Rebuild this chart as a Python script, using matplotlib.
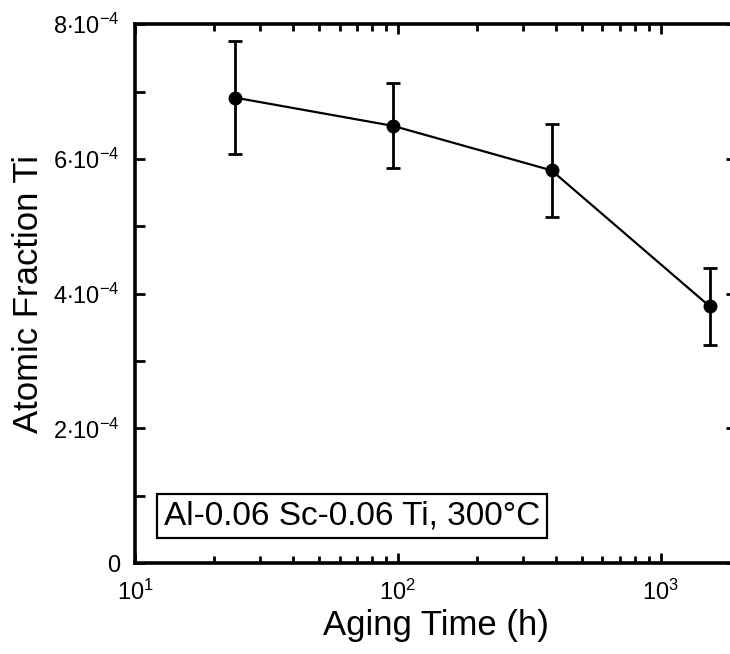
import numpy as np
import matplotlib
matplotlib.use('Agg')
import matplotlib.pyplot as plt
from matplotlib.ticker import FixedLocator, FixedFormatter, NullFormatter

plt.rcParams['font.family'] = ['Liberation Sans', 'DejaVu Sans']
plt.rcParams['mathtext.fontset'] = 'custom'
plt.rcParams['mathtext.rm'] = 'Liberation Sans'
plt.rcParams['mathtext.it'] = 'Liberation Sans:italic'
plt.rcParams['mathtext.bf'] = 'Liberation Sans:bold'
plt.rcParams['xtick.labelsize'] = 17
plt.rcParams['ytick.labelsize'] = 17

# aging time (h) and Ti atomic fraction with error bars
time_h = [24, 96, 384, 1536]
frac_ti = [6.91e-4, 6.49e-4, 5.83e-4, 3.81e-4]
frac_err = [0.84e-4, 0.63e-4, 0.69e-4, 0.57e-4]

y_major = [0, 2e-4, 4e-4, 6e-4, 8e-4]
y_minor = [1e-4, 3e-4, 5e-4, 7e-4]
y_labels = ['0', r'2$\cdot$10$^{-4}$', r'4$\cdot$10$^{-4}$',
            r'6$\cdot$10$^{-4}$', r'8$\cdot$10$^{-4}$']
x_major = [10, 100, 1000]
x_labels = [r'10$^1$', r'10$^2$', r'10$^3$']
x_minor = [m * d for d in (10, 100, 1000) for m in range(2, 10)]

fig = plt.figure(figsize=(7.30, 6.54), dpi=100)
ax = fig.add_axes([0.185, 0.139, 0.823, 0.824])

ax.plot(time_h, frac_ti, '-', color='black', lw=1.6)
ax.errorbar(time_h, frac_ti, yerr=frac_err, fmt='o', color='black',
            ms=9, elinewidth=2, capsize=5, capthick=2)

ax.set_xscale('log')
ax.set_xlim(10, 1930)
ax.set_ylim(0, 8e-4)

ax.yaxis.set_major_locator(FixedLocator(y_major))
ax.yaxis.set_major_formatter(FixedFormatter(y_labels))
ax.yaxis.set_minor_locator(FixedLocator(y_minor))
ax.yaxis.set_minor_formatter(NullFormatter())
ax.xaxis.set_major_locator(FixedLocator(x_major))
ax.xaxis.set_major_formatter(FixedFormatter(x_labels))
ax.xaxis.set_minor_locator(FixedLocator(x_minor))
ax.xaxis.set_minor_formatter(NullFormatter())

for s in ax.spines.values():
    s.set_linewidth(2.6)

ax.tick_params(axis='both', which='both', direction='in', width=2,
               top=True, right=False, labelsize=17)
ax.tick_params(axis='y', which='both', length=7, pad=11)
ax.tick_params(axis='x', which='major', length=7, pad=12)
ax.tick_params(axis='x', which='minor', length=5)
ax.tick_params(axis='y', which='major', right=True)

ax.set_xlabel('Aging Time (h)', fontsize=25, labelpad=3)
ax.set_ylabel('Atomic Fraction Ti', fontsize=25, labelpad=6)

ax.text(0.048, 0.059, 'Al-0.06 Sc-0.06 Ti, 300°C', transform=ax.transAxes,
        fontsize=24, ha='left', va='bottom',
        bbox=dict(boxstyle='square,pad=0.2', fc='white', ec='black', lw=1.6))

fig.savefig('out.png', dpi=100)
